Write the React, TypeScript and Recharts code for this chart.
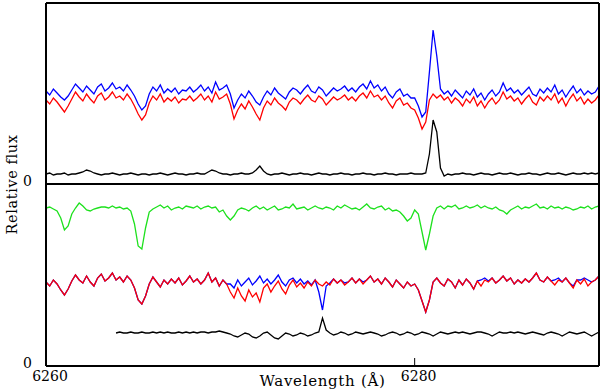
import React from 'react';
import { LineChart, Line, XAxis, YAxis, ReferenceLine, Label } from 'recharts';

// wavelength grid: 6260 .. 6290 A, 0.2 A sampling
const wlStart = 6260;
const wlStep = 0.2;
const xTicks = [6260, 6280];

// upper panel (relative flux above its own zero)
const blueTop = [
  0.93, 0.89, 0.95, 0.91, 0.87, 0.84, 0.88, 0.94, 1.0, 0.96,
  0.92, 0.98, 0.94, 0.9, 0.97, 1.0, 0.93, 0.96, 1.01, 0.95,
  0.97, 0.93, 0.99, 0.94, 0.88, 0.8, 0.74, 0.78, 0.9, 0.97,
  0.93, 0.99, 0.91, 0.95, 0.92, 0.96, 0.9, 0.94, 0.93, 0.97,
  0.92, 0.95, 0.99, 0.93, 0.97, 0.91, 1.02, 0.94, 0.96, 0.99,
  0.9, 0.76, 0.84, 0.9, 0.86, 0.93, 0.88, 0.82, 0.79, 0.87,
  0.93, 0.89, 0.96, 0.91, 0.88, 0.85, 0.92, 0.96, 0.94, 0.9,
  0.95, 0.99, 0.93, 0.91, 0.97, 0.94, 0.88, 0.92, 0.96, 0.93,
  0.95, 0.98, 0.93, 0.96, 0.92, 0.97, 1.0, 0.95, 1.03, 0.96,
  0.99, 0.93, 0.97, 0.9, 0.86, 0.92, 0.95, 0.88, 0.9, 0.86,
  0.86, 0.78, 0.67, 0.72, 1.12, 1.54, 1.28, 0.95, 0.9, 0.93,
  0.88, 0.94, 0.9, 0.86, 0.93, 0.89, 0.95, 0.87, 0.91, 0.84,
  0.9, 0.94, 0.88, 0.92, 1.01, 0.93, 0.96, 0.91, 0.94, 0.89,
  0.93, 0.97, 0.9, 0.88, 0.95, 0.91, 0.96, 0.92, 0.99, 0.9,
  0.94, 0.87, 0.93, 0.98, 0.91, 0.95, 0.89, 0.93, 0.9, 0.92, 0.98,
];
const redTop = [
  0.84, 0.8, 0.86, 0.82, 0.77, 0.72, 0.78, 0.85, 0.92, 0.87,
  0.83, 0.9, 0.85, 0.81, 0.88, 0.91, 0.84, 0.87, 0.92, 0.86,
  0.88, 0.84, 0.9, 0.85, 0.78, 0.7, 0.64, 0.69, 0.81, 0.88,
  0.84, 0.9, 0.82, 0.86, 0.83, 0.87, 0.81, 0.85, 0.84, 0.88,
  0.83, 0.86, 0.9, 0.84, 0.88, 0.82, 0.92, 0.85, 0.87, 0.9,
  0.8, 0.65, 0.74, 0.8, 0.75, 0.83, 0.77, 0.7, 0.64, 0.76,
  0.83, 0.79, 0.86, 0.81, 0.78, 0.74, 0.82, 0.86, 0.84, 0.8,
  0.85, 0.89, 0.84, 0.82, 0.88, 0.85, 0.79, 0.83, 0.87, 0.84,
  0.86, 0.89, 0.84, 0.87, 0.83, 0.88, 0.91, 0.86, 0.93, 0.87,
  0.89, 0.84, 0.88, 0.81, 0.76, 0.83, 0.86, 0.79, 0.81, 0.76,
  0.74, 0.66, 0.55, 0.62, 0.84, 0.9, 0.86, 0.89, 0.84, 0.87,
  0.81, 0.86, 0.83, 0.78, 0.85, 0.81, 0.87, 0.78, 0.83, 0.76,
  0.82, 0.86, 0.8, 0.84, 0.92, 0.85, 0.88, 0.83, 0.86, 0.8,
  0.85, 0.89, 0.82, 0.79, 0.87, 0.83, 0.88, 0.84, 0.9, 0.81,
  0.86, 0.78, 0.85, 0.9, 0.83, 0.87, 0.8, 0.85, 0.81, 0.84, 0.89,
];
const blackTop = [
  0.1, 0.11, 0.09, 0.1, 0.1, 0.11, 0.09, 0.1, 0.1, 0.11,
  0.12, 0.14, 0.13, 0.11, 0.1, 0.09, 0.1, 0.1, 0.11, 0.1,
  0.09, 0.1, 0.1, 0.11, 0.1, 0.09, 0.1, 0.1, 0.09, 0.1,
  0.1, 0.11, 0.1, 0.09, 0.1, 0.11, 0.1, 0.1, 0.09, 0.1,
  0.1, 0.11, 0.1, 0.1, 0.12, 0.14, 0.13, 0.11, 0.1, 0.1,
  0.09, 0.1, 0.1, 0.11, 0.1, 0.1, 0.11, 0.14, 0.18, 0.13,
  0.1, 0.09, 0.1, 0.1, 0.11, 0.1, 0.09, 0.1, 0.1, 0.11,
  0.1, 0.1, 0.09, 0.1, 0.11, 0.1, 0.1, 0.09, 0.1, 0.1,
  0.11, 0.1, 0.1, 0.09, 0.1, 0.1, 0.11, 0.1, 0.1, 0.09,
  0.1, 0.1, 0.11, 0.1, 0.1, 0.09, 0.1, 0.1, 0.1, 0.11,
  0.1, 0.1, 0.1, 0.11, 0.3, 0.64, 0.52, 0.16, 0.08, 0.1,
  0.09, 0.1, 0.1, 0.11, 0.1, 0.1, 0.09, 0.1, 0.11, 0.1,
  0.1, 0.09, 0.1, 0.11, 0.1, 0.1, 0.11, 0.1, 0.09, 0.1,
  0.1, 0.11, 0.1, 0.1, 0.09, 0.1, 0.11, 0.1, 0.1, 0.11,
  0.1, 0.09, 0.1, 0.11, 0.1, 0.1, 0.11, 0.1, 0.11, 0.1, 0.11,
];

// lower panel
const greenBot = [
  1.58, 1.59, 1.57, 1.55, 1.48, 1.36, 1.4, 1.52, 1.58, 1.63,
  1.6, 1.56, 1.55, 1.57, 1.58, 1.59, 1.59, 1.58, 1.6, 1.58,
  1.59, 1.57, 1.58, 1.55, 1.42, 1.2, 1.17, 1.38, 1.54, 1.57,
  1.59, 1.61, 1.58, 1.6, 1.56, 1.58, 1.59, 1.57, 1.6, 1.59,
  1.58, 1.6, 1.57, 1.59, 1.6, 1.58, 1.59, 1.54, 1.56, 1.5,
  1.46, 1.5, 1.56, 1.58, 1.57, 1.55, 1.58, 1.6, 1.57, 1.59,
  1.56, 1.58, 1.6, 1.56, 1.57, 1.59, 1.58, 1.62, 1.57, 1.58,
  1.59, 1.56, 1.58, 1.6, 1.58, 1.57, 1.59, 1.58, 1.56, 1.6,
  1.58, 1.61, 1.59, 1.57, 1.58, 1.56, 1.59, 1.62, 1.58, 1.57,
  1.59, 1.6, 1.56, 1.58, 1.55, 1.56, 1.54, 1.5, 1.45, 1.48,
  1.56, 1.52, 1.34, 1.16, 1.32, 1.5, 1.58, 1.6, 1.57, 1.6,
  1.59, 1.61, 1.57, 1.58, 1.6, 1.58, 1.59, 1.61, 1.58, 1.6,
  1.58, 1.57, 1.59, 1.56, 1.55, 1.52, 1.56, 1.58, 1.6, 1.57,
  1.59, 1.58, 1.6, 1.62, 1.58, 1.59, 1.57, 1.6, 1.58, 1.59,
  1.57, 1.59, 1.58, 1.56, 1.57, 1.59, 1.58, 1.6, 1.57, 1.59, 1.6,
];
const blueBot = [
  0.84, 0.8, 0.86, 0.82, 0.76, 0.71, 0.77, 0.85, 0.91, 0.86,
  0.83, 0.9, 0.84, 0.8, 0.88, 0.92, 0.85, 0.88, 0.93, 0.86,
  0.89, 0.84, 0.9, 0.86, 0.78, 0.66, 0.62, 0.7, 0.82, 0.89,
  0.84, 0.79, 0.86, 0.82, 0.87, 0.83, 0.88, 0.81, 0.85, 0.9,
  0.84, 0.87, 0.82, 0.86, 0.93, 0.84, 0.88, 0.8, 0.86, 0.82,
  0.82, 0.78, 0.86, 0.8, 0.84, 0.88, 0.81, 0.85, 0.9, 0.83,
  0.87, 0.82, 0.86, 0.91, 0.84, 0.8, 0.86, 0.88, 0.83, 0.87,
  0.82, 0.85, 0.81, 0.86, 0.74, 0.56, 0.8, 0.83, 0.87, 0.83,
  0.86, 0.83, 0.84, 0.88, 0.83, 0.87, 0.84, 0.86, 0.9, 0.84,
  0.87, 0.82, 0.88, 0.84, 0.79, 0.86, 0.82, 0.78, 0.84, 0.8,
  0.82, 0.76, 0.65, 0.54, 0.66, 0.84, 0.88, 0.83, 0.8, 0.87,
  0.84, 0.78, 0.86, 0.81, 0.87, 0.83, 0.77, 0.85, 0.86, 0.88,
  0.85, 0.88, 0.83, 0.86, 0.9, 0.85, 0.88, 0.82, 0.86, 0.83,
  0.87, 0.84, 0.88, 0.93, 0.86, 0.84, 0.89, 0.85, 0.86, 0.88,
  0.84, 0.88, 0.83, 0.8, 0.86, 0.86, 0.88, 0.86, 0.84, 0.86, 0.9,
];
const redBot = [
  0.84, 0.8, 0.86, 0.82, 0.76, 0.71, 0.77, 0.85, 0.91, 0.86,
  0.83, 0.9, 0.84, 0.8, 0.88, 0.92, 0.85, 0.88, 0.93, 0.86,
  0.89, 0.84, 0.9, 0.86, 0.78, 0.66, 0.62, 0.7, 0.82, 0.89,
  0.84, 0.79, 0.86, 0.82, 0.87, 0.83, 0.88, 0.81, 0.85, 0.9,
  0.84, 0.87, 0.82, 0.86, 0.93, 0.84, 0.88, 0.8, 0.86, 0.82,
  0.74, 0.68, 0.78, 0.7, 0.65, 0.76, 0.69, 0.73, 0.64, 0.78,
  0.82, 0.74, 0.8, 0.85, 0.77, 0.72, 0.81, 0.86, 0.79, 0.83,
  0.78, 0.84, 0.8, 0.86, 0.82, 0.8, 0.84, 0.81, 0.87, 0.83,
  0.86, 0.81, 0.84, 0.88, 0.83, 0.87, 0.82, 0.86, 0.9, 0.84,
  0.87, 0.82, 0.88, 0.84, 0.79, 0.86, 0.82, 0.78, 0.84, 0.8,
  0.82, 0.76, 0.65, 0.54, 0.66, 0.84, 0.88, 0.83, 0.8, 0.87,
  0.84, 0.78, 0.86, 0.81, 0.87, 0.83, 0.77, 0.85, 0.8, 0.86,
  0.84, 0.88, 0.83, 0.86, 0.9, 0.85, 0.88, 0.82, 0.86, 0.83,
  0.87, 0.84, 0.88, 0.93, 0.86, 0.84, 0.89, 0.85, 0.81, 0.86,
  0.84, 0.88, 0.83, 0.78, 0.86, 0.82, 0.87, 0.8, 0.84, 0.86, 0.9,
];
const blackBot: (number | null)[] = [
  null, null, null, null, null, null, null, null, null, null,
  null, null, null, null, null, null, null, null, null, 0.33,
  0.34, 0.33, 0.33, 0.34, 0.33, 0.33, 0.34, 0.33, 0.33, 0.34,
  0.33, 0.34, 0.33, 0.34, 0.33, 0.33, 0.34, 0.33, 0.34, 0.33,
  0.34, 0.33, 0.34, 0.34, 0.33, 0.34, 0.34, 0.35, 0.34, 0.33,
  0.32, 0.3, 0.29, 0.31, 0.33, 0.32, 0.29, 0.28, 0.3, 0.33,
  0.34, 0.31, 0.28, 0.27, 0.3, 0.33, 0.32, 0.3, 0.31, 0.33,
  0.32, 0.3, 0.31, 0.33, 0.34, 0.48, 0.36, 0.33, 0.31, 0.32,
  0.34, 0.33, 0.31, 0.32, 0.34, 0.33, 0.32, 0.33, 0.34, 0.33,
  0.32, 0.3, 0.31, 0.33, 0.34, 0.33, 0.31, 0.32, 0.34, 0.33,
  0.31, 0.32, 0.34, 0.33, 0.32, 0.3, 0.32, 0.34, 0.33, 0.32,
  0.33, 0.34, 0.33, 0.34, 0.33, 0.32, 0.33, 0.34, 0.34, 0.33,
  0.32, 0.3, 0.32, 0.34, 0.33, 0.33, 0.34, 0.33, 0.34, 0.33,
  0.32, 0.33, 0.34, 0.33, 0.32, 0.31, 0.33, 0.34, 0.33, 0.32,
  0.3, 0.32, 0.34, 0.33, 0.32, 0.33, 0.34, 0.32, 0.3, 0.32, 0.34,
];

// upper panel sits on top of the lower one
const panelOffset = 1.82;
const yMax = 3.63;

const data = blueTop.map((_, i) => ({
  wl: +(wlStart + i * wlStep).toFixed(1),
  bt: blueTop[i] + panelOffset,
  rt: redTop[i] + panelOffset,
  kt: blackTop[i] + panelOffset,
  g: greenBot[i],
  bb: blueBot[i],
  rb: redBot[i],
  kb: blackBot[i],
}));

const font = 'DejaVu Serif, serif';

const YLabel = (props: any) => {
  const vb = props.viewBox;
  const cx = 12;
  const cy = vb.y + vb.height / 2;
  return (
    <text x={cx} y={cy} transform={`rotate(-90, ${cx}, ${cy})`} textAnchor="middle" dominantBaseline="central"
      fontFamily={font} fontSize={14.5} letterSpacing={0.6} fill="#000">
      Relative flux
    </text>
  );
};

const XLabel = (props: any) => {
  const vb = props.viewBox;
  return (
    <text x={vb.x + vb.width / 2} y={386} textAnchor="middle" fontFamily={font} fontSize={15} letterSpacing={0.7} fill="#000">
      Wavelength (Å)
    </text>
  );
};

export default function App() {
  return (
    <div style={{ position: 'absolute', left: 0, top: 0, width: 600, height: 391, background: '#fff' }}>
      <LineChart width={600} height={391} data={data} margin={{ top: 2, right: 0, bottom: 0, left: 0 }}>
        <XAxis dataKey="wl" type="number" domain={[6260, 6290]} ticks={xTicks} allowDataOverflow
          height={25} tickLine={false} tickSize={5} tickMargin={0}
          axisLine={{ stroke: '#000', strokeWidth: 2 }}
          tick={{ fill: '#000', fontFamily: font, fontSize: 14, dx: 4 }}>
          <Label content={XLabel} />
        </XAxis>
        <XAxis xAxisId="top" orientation="top" dataKey="wl" type="number" domain={[6260, 6290]} height={1}
          tick={false} tickLine={false} axisLine={{ stroke: '#000', strokeWidth: 2 }} />
        <YAxis type="number" domain={[0, yMax]} ticks={[0, panelOffset]} tickFormatter={() => '0'} width={46}
          tickLine={false} tickMargin={8} axisLine={{ stroke: '#000', strokeWidth: 2 }}
          tick={{ fill: '#000', fontFamily: font, fontSize: 14, dy: -3 }}>
          <Label content={YLabel} />
        </YAxis>
        <YAxis yAxisId="right" orientation="right" domain={[0, 1]} width={1} tick={false} tickLine={false}
          axisLine={{ stroke: '#000', strokeWidth: 2 }} />
        <ReferenceLine y={panelOffset} stroke="#000" strokeWidth={2} />
        <ReferenceLine segment={[{ x: 6280, y: 0 }, { x: 6280, y: 0.08 }]} stroke="#000" strokeWidth={1} />

        <Line dataKey="g" stroke="#1de11d" strokeWidth={1.3} dot={false} isAnimationActive={false} />
        <Line dataKey="bb" stroke="#0000ff" strokeWidth={1.3} dot={false} isAnimationActive={false} />
        <Line dataKey="rb" stroke="#ff0000" strokeWidth={1.3} dot={false} isAnimationActive={false} />
        <Line dataKey="kb" stroke="#000" strokeWidth={1.3} dot={false} isAnimationActive={false} />
        <Line dataKey="rt" stroke="#ff0000" strokeWidth={1.3} dot={false} isAnimationActive={false} />
        <Line dataKey="bt" stroke="#0000ff" strokeWidth={1.3} dot={false} isAnimationActive={false} />
        <Line dataKey="kt" stroke="#000" strokeWidth={1.3} dot={false} isAnimationActive={false} />
      </LineChart>
    </div>
  );
}
